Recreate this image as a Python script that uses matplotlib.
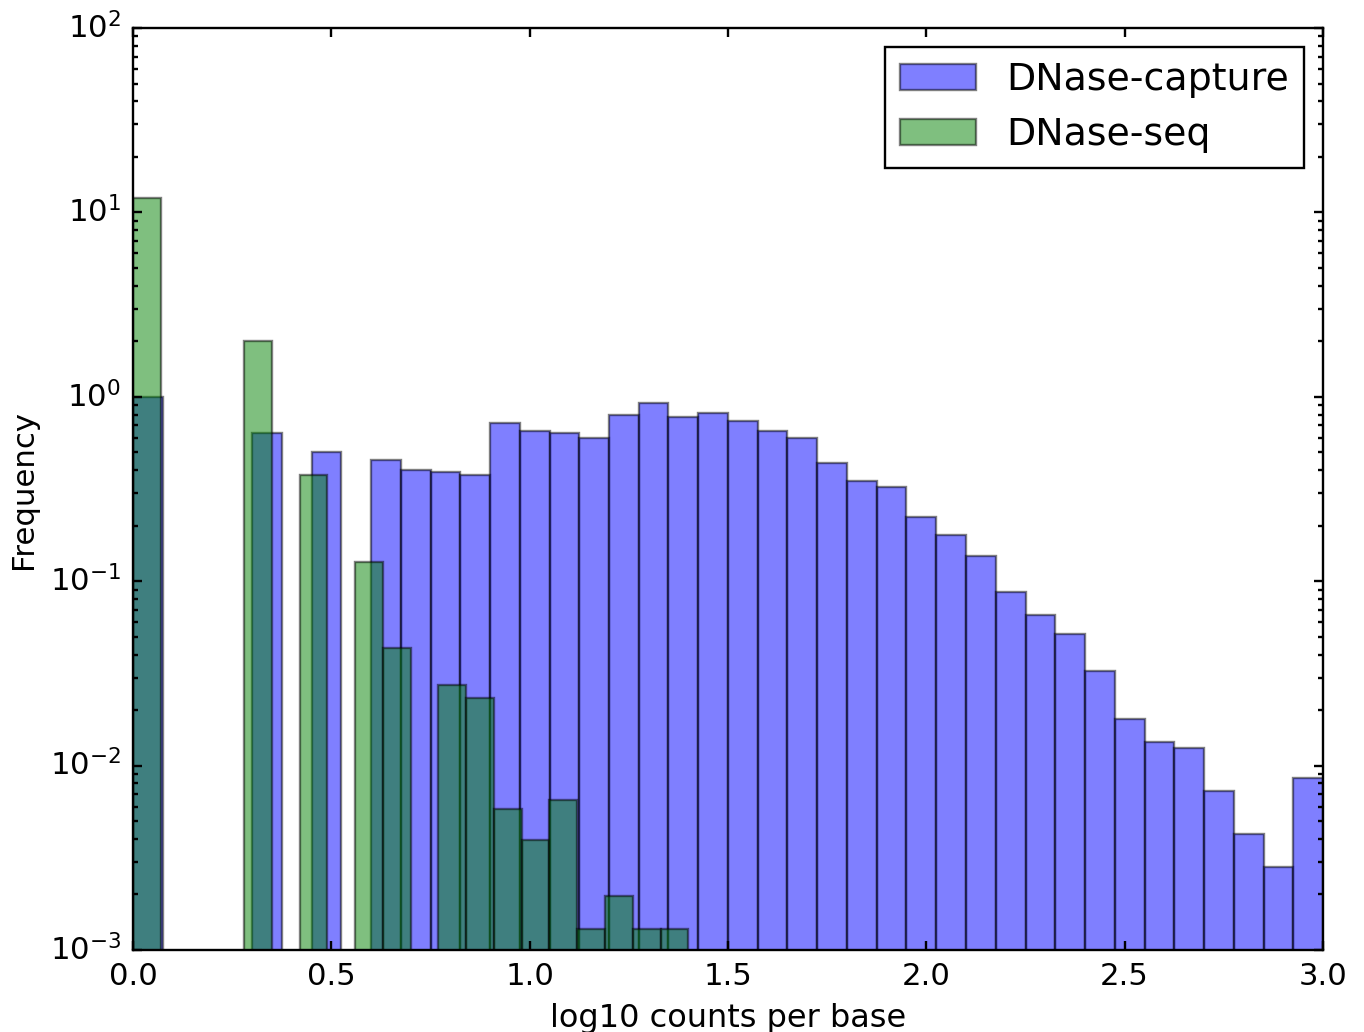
import numpy as np
import matplotlib
matplotlib.use("Agg")
import matplotlib.pyplot as plt

# Bin edges (log10 counts per base)
capture_edges = np.linspace(0.0, 3.0, 41)   # width 0.075
seq_edges = np.linspace(0.0, 1.4, 21)       # width 0.07

capture_freq = [1.0, 0, 0, 0, 0.64, 0, 0.50, 0, 0.455, 0.40,
                0.39, 0.378, 0.72, 0.65, 0.64, 0.60, 0.80, 0.92, 0.78, 0.82,
                0.74, 0.65, 0.60, 0.44, 0.35, 0.325, 0.223, 0.179, 0.137, 0.0877,
                0.0658, 0.0519, 0.0327, 0.0179, 0.0135, 0.0125, 0.0073, 0.00427, 0.00282, 0.0086]

seq_freq = [12.0, 0, 0, 0, 2.01, 0, 0.378, 0, 0.127, 0.0435,
            0, 0.0274, 0.0233, 0.00583, 0.00395, 0.00653, 0.0013, 0.00197, 0.0013, 0.0013]

labels = ["DNase-capture", "DNase-seq"]
xticks = [0.0, 0.5, 1.0, 1.5, 2.0, 2.5, 3.0]

plt.style.use("classic")
plt.rcParams["font.family"] = ["DejaVu Sans"]
plt.rcParams["axes.unicode_minus"] = False

DPI = 170.5
fig = plt.figure(figsize=(1364 / DPI, 1032 / DPI), dpi=DPI, facecolor="white")
ax = fig.add_axes([133 / 1364, 1 - 950 / 1032, (1323 - 133) / 1364, (950 - 28) / 1032])
ax.set_yscale("log")


def draw(edges, freq, color, label):
    edges = np.asarray(edges)
    freq = np.asarray(freq, dtype=float)
    m = freq > 0
    left = edges[:-1][m]
    width = np.diff(edges)[m]
    ax.bar(left, freq[m], width=width, align="edge", color=color,
           edgecolor="black", linewidth=1.0, alpha=0.5, label=label)


draw(capture_edges, capture_freq, "#0000ff", labels[0])
draw(seq_edges, seq_freq, "#008000", labels[1])

ax.set_xlim(0, 3.0)
ax.set_ylim(1e-3, 1e2)
ax.set_xticks(xticks)
ax.tick_params(which="both", direction="in", top=True, right=True, labelsize=13)
ax.tick_params(which="major", length=4, width=1, pad=5)
ax.tick_params(which="minor", length=2, width=1)
for s in ax.spines.values():
    s.set_linewidth(1.0)

ax.set_xlabel("log10 counts per base", fontsize=13.5)
ax.set_ylabel("Frequency", fontsize=13)

leg = ax.legend(loc="upper right", fontsize=16, fancybox=False)
leg.get_frame().set_edgecolor("black")

fig.savefig("out.png", dpi=DPI, facecolor="white")
